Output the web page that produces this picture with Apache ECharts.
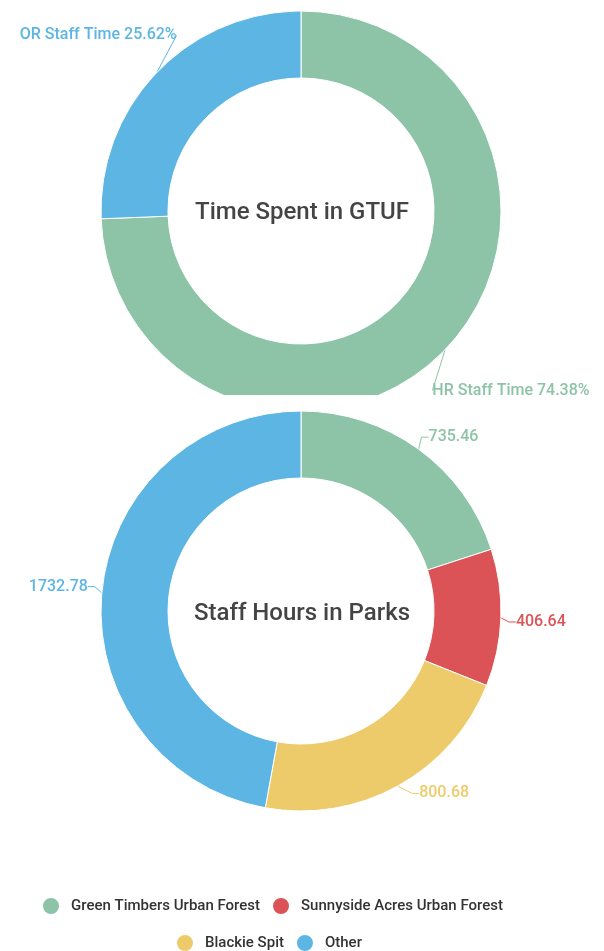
<!DOCTYPE html>
<html>
<head>
<meta charset="utf-8">
<script src="https://cdn.jsdelivr.net/npm/echarts@6/dist/echarts.min.js"></script>
<style>
html,body{margin:0;padding:0;background:#fff;}
#chartTop{width:604px;height:395px;}
#chartBottom{width:604px;height:556px;}
</style>
</head>
<body>
<div id="chartTop"></div>
<div id="chartBottom"></div>
<script>
// 数据
var timeNames = ['HR Staff Time', 'OR Staff Time'];
var timeValues = [74.38, 25.62];
var timeColors = ['#8dc3a7', '#5db5e4'];

var parkNames = ['Green Timbers Urban Forest', 'Sunnyside Acres Urban Forest', 'Blackie Spit', 'Other'];
var parkValues = [735.46, 406.64, 800.68, 1732.78];
var parkColors = ['#8dc3a7', '#dc5357', '#eecb6a', '#5db5e4'];

var fontFamily = 'Roboto, "Noto Sans", sans-serif';

function centerTitle(text, y) {
	return {
		type: 'text',
		left: 'center',
		top: y,
		style: {
			text: text,
			fill: '#444',
			font: '500 24px ' + fontFamily
		}
	};
}

// 标签挪动后重连引导线
function shiftLabels(shifts) {
	return function(params) {
		var s = shifts[params.dataIndex] || [0, 0];
		var r = params.labelRect;
		return { x: r.x + s[0], y: r.y + s[1], align: 'left', verticalAlign: 'top' };
	};
}

// 上面的环形图
var topChart = echarts.init(document.getElementById('chartTop'));
var topData = [];
for (var i = 0; i < timeNames.length; i++) {
	topData.push({ name: timeNames[i], value: timeValues[i], itemStyle: { color: timeColors[i] } });
}
topChart.setOption({
	animation: false,
	graphic: [centerTitle('Time Spent in GTUF', 201)],
	series: [{
		type: 'pie',
		center: [301, 211],
		radius: [133, 200],
		startAngle: 90,
		clockwise: true,
		itemStyle: { borderColor: '#fff', borderWidth: 1 },
		label: {
			formatter: function(p) { return p.name + ' ' + p.value.toFixed(2) + '%'; },
			color: 'inherit',
			fontSize: 16,
			fontWeight: 500,
			overflow: 'none',
			fontFamily: fontFamily
		},
		labelLine: { length: 10, length2: 10, lineStyle: { width: 1 } },
		labelLayout: shiftLabels([[-35, 34], [42, -30]]),
		data: topData
	}]
});

// 下面的环形图
var bottomChart = echarts.init(document.getElementById('chartBottom'));
var bottomData = [];
for (var j = 0; j < parkNames.length; j++) {
	bottomData.push({ name: parkNames[j], value: parkValues[j], itemStyle: { color: parkColors[j] } });
}
var legendStyle = {
	icon: 'circle',
	itemWidth: 18,
	itemHeight: 27,
	itemGap: 11,
	textStyle: {
		color: '#333',
		fontSize: 15,
		fontWeight: 500,
		fontFamily: fontFamily,
		padding: [0, 0, 0, 6]
	}
};
bottomChart.setOption({
	animation: false,
	graphic: [centerTitle('Staff Hours in Parks', 207)],
	legend: [
		Object.assign({}, legendStyle, { left: 36, top: 496, data: parkNames.slice(0, 2) }),
		Object.assign({}, legendStyle, { left: 170, top: 533, data: parkNames.slice(2) })
	],
	series: [{
		type: 'pie',
		center: [301, 216],
		radius: [133, 200],
		startAngle: 90,
		clockwise: true,
		itemStyle: { borderColor: '#fff', borderWidth: 1 },
		label: {
			formatter: function(p) { return p.value.toFixed(2); },
			color: 'inherit',
			fontSize: 16,
			fontWeight: 500,
			overflow: 'none',
			fontFamily: fontFamily
		},
		labelLine: { length: 5, length2: 7, lineStyle: { width: 1 } },
		labelLayout: shiftLabels([[-5, -8], [-2, 4], [7, 3], [3, -6]]),
		data: bottomData
	}]
});
</script>
</body>
</html>
